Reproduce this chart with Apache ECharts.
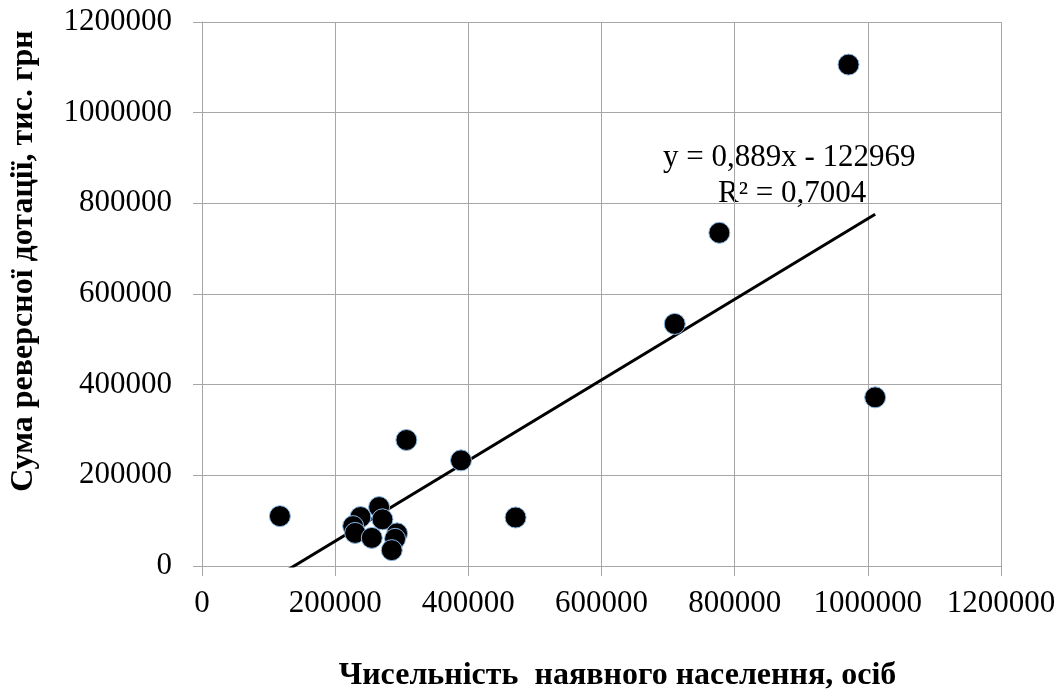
<!DOCTYPE html>
<html>
<head>
<meta charset="utf-8">
<script src="https://cdn.jsdelivr.net/npm/echarts@6/dist/echarts.min.js"></script>
<style>
html,body{margin:0;padding:0;background:#fff;overflow:hidden;}
#chart{width:1059px;height:697px;}
</style>
</head>
<body>
<div id="chart"></div>
<script>
// Population (x) and reverse subsidy sum (y)
const populationX = [117000, 971000, 777000, 710000, 1011000, 307000, 389000, 471000, 266000, 238000, 227000, 230000, 271000, 255000, 293000, 290000, 285000];
const subsidyY = [110000, 1106000, 735000, 534000, 372000, 278000, 233000, 107000, 130000, 108000, 88000, 73000, 103000, 62000, 72000, 60000, 35000];
const xTicks = [0, 200000, 400000, 600000, 800000, 1000000, 1200000];
const yTicks = [0, 200000, 400000, 600000, 800000, 1000000, 1200000];
const trendSlope = 0.889;
const trendIntercept = -122969;
const equationText = 'y = 0,889x - 122969';
const r2Text = 'R\u00B2 = 0,7004';
const xName = 'Чисельність  наявного населення, осіб';
const yName = 'Сума реверсної дотації, тис. грн';

const points = populationX.map((x, i) => [x, subsidyY[i]]);
const minX = Math.min(...populationX);
const maxX = Math.max(...populationX);
const trend = [[minX, trendSlope * minX + trendIntercept], [maxX, trendSlope * maxX + trendIntercept]];

const FONT = 'Liberation Serif';
const gridColor = '#a6a6a6';
const chart = echarts.init(document.getElementById('chart'), null, {width: 1059, height: 697});
chart.setOption({
  backgroundColor: '#fff',
  animation: false,
  grid: {left: 202, top: 22, width: 799, height: 548, containLabel: false},
  xAxis: {
    type: 'value', min: xTicks[0], max: xTicks[xTicks.length - 1], interval: xTicks[1] - xTicks[0],
    name: xName, nameLocation: 'middle', nameGap: 94,
    nameTextStyle: {fontFamily: FONT, fontWeight: 'bold', fontSize: 32, color: '#000', padding: [0, 0, 0, 32]},
    axisLine: {show: true, lineStyle: {color: gridColor, width: 1}},
    axisTick: {show: true, length: 10, lineStyle: {color: gridColor}},
    axisLabel: {fontFamily: FONT, fontSize: 31, color: '#000', margin: 22, formatter: v => String(v)},
    splitLine: {show: true, lineStyle: {color: gridColor, width: 1}}
  },
  yAxis: {
    type: 'value', min: yTicks[0], max: yTicks[yTicks.length - 1], interval: yTicks[1] - yTicks[0],
    name: yName, nameLocation: 'middle', nameGap: 162,
    nameTextStyle: {fontFamily: FONT, fontWeight: 'bold', fontSize: 32, color: '#000', padding: [0, 0, 0, 66]},
    axisLine: {show: true, lineStyle: {color: gridColor, width: 1}},
    axisTick: {show: true, length: 9, lineStyle: {color: gridColor}},
    axisLabel: {fontFamily: FONT, fontSize: 31, color: '#000', margin: 30, formatter: v => String(v)},
    splitLine: {show: true, lineStyle: {color: gridColor, width: 1}}
  },
  series: [
    {
      type: 'line', data: trend, symbol: 'none', clip: true,
      lineStyle: {color: '#000', width: 3}, z: 2
    },
    {
      type: 'scatter', data: points, symbol: 'circle', symbolSize: 21,
      itemStyle: {color: '#000', borderColor: '#8ab8e6', borderWidth: 1, opacity: 1}, z: 3
    }
  ],
  graphic: [
    {type: 'text', left: 663, top: 142, style: {text: equationText, font: '31px "Liberation Serif"', fill: '#000'}},
    {type: 'text', left: 718, top: 178, style: {text: r2Text, font: '31px "Liberation Serif"', fill: '#000'}}
  ]
});
</script>
</body>
</html>
